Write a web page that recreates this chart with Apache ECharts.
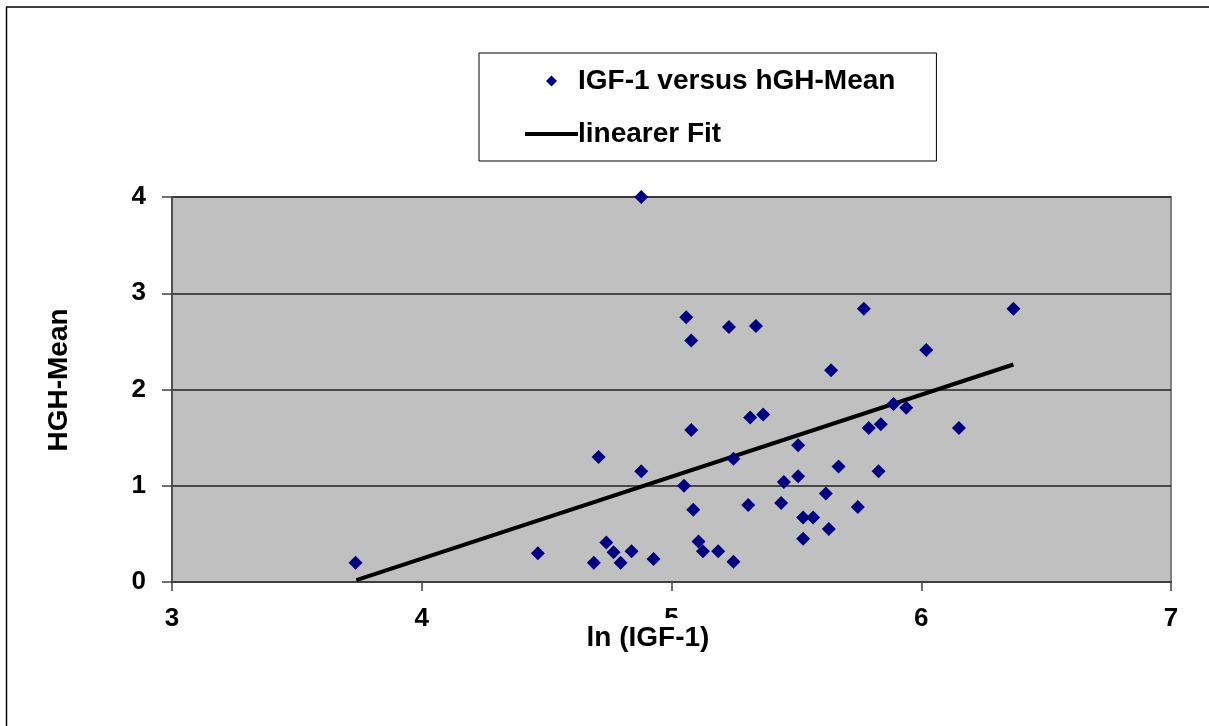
<!DOCTYPE html>
<html>
<head>
<meta charset="utf-8">
<script src="https://cdn.jsdelivr.net/npm/echarts@6/dist/echarts.min.js"></script>
<style>
  html, body { margin: 0; padding: 0; background: #fff; }
  #chart { width: 1209px; height: 726px; }
</style>
</head>
<body>
<div id="chart"></div>
<script>
// ln(IGF-1) values
let igfLn = [3.735, 4.465, 4.879, 5.059, 5.079, 5.230, 5.338, 5.770, 5.639, 5.889,
  5.315, 5.367, 5.790, 5.838, 5.079, 5.507, 4.708, 4.879, 5.248, 5.669,
  5.829, 5.050, 5.450, 5.507, 5.618, 5.087, 5.307, 5.439, 5.746, 5.527,
  5.567, 5.630, 5.527, 4.739, 4.768, 4.796, 4.689, 4.840, 4.928, 5.108,
  5.126, 5.187, 5.248, 6.369, 6.020, 5.940, 6.151];
// HGH-Mean values
let hghMean = [0.20, 0.30, 4.00, 2.75, 2.51, 2.65, 2.66, 2.84, 2.20, 1.85,
  1.71, 1.74, 1.60, 1.64, 1.58, 1.42, 1.30, 1.15, 1.28, 1.20,
  1.15, 1.00, 1.04, 1.10, 0.92, 0.75, 0.80, 0.82, 0.78, 0.67,
  0.67, 0.55, 0.45, 0.41, 0.31, 0.20, 0.20, 0.32, 0.24, 0.42,
  0.32, 0.32, 0.21, 2.84, 2.41, 1.81, 1.60];
// linear fit end points
let fitX = [3.738, 6.369];
let fitY = [0.02, 2.26];

let seriesNames = ["IGF-1 versus hGH-Mean", "linearer Fit"];
let xTitle = "ln (IGF-1)";
let yTitle = "HGH-Mean";

let font = "'Liberation Sans', Arial, sans-serif";

let points = igfLn.map((x, i) => [x, hghMean[i]]);
let fitLine = fitX.map((x, i) => [x, fitY[i]]);

let option = {
  animation: false,
  backgroundColor: "#fff",
  textStyle: { fontFamily: font },
  graphic: [
    // outer frame (top and left edge)
    { type: "line", shape: { x1: 6, y1: 7, x2: 1209, y2: 7 }, style: { stroke: "#000", lineWidth: 1.5 } },
    { type: "line", shape: { x1: 6.5, y1: 7, x2: 6.5, y2: 726 }, style: { stroke: "#000", lineWidth: 1.5 } },
    // x title sits on a white box that hides most of the "5" tick label, like the original
    {
      type: "text",
      z: 100,
      x: 648,
      y: 638,
      style: {
        text: xTitle,
        align: "center",
        verticalAlign: "middle",
        font: "bold 28px " + font,
        fill: "#000",
        lineHeight: 28,
        backgroundColor: "#fff",
        padding: [10, 2, 2, 2],
      },
    },
  ],
  legend: {
    data: [
      // path icons so the shape keeps its aspect inside the 53px wide icon box
      { name: seriesNames[0], icon: "path://M5,0L10,5L5,10L0,5Z" },
      { name: seriesNames[1], icon: "path://M0,0H53V4H0Z" },
    ],
    orient: "vertical",
    left: 479,
    top: 53,
    padding: [13, 41, 12, 46],
    itemWidth: 53,
    itemHeight: 11,
    itemGap: 23,
    symbolKeepAspect: true,
    borderColor: "#000",
    borderWidth: 1,
    backgroundColor: "#fff",
    textStyle: {
      fontFamily: font,
      fontSize: 28,
      fontWeight: "bold",
      color: "#000",
      lineHeight: 30,
      padding: [0, 0, 0, -5],
    },
  },
  grid: {
    left: 172,
    right: 38,
    top: 197,
    bottom: 144,
    show: true,
    backgroundColor: "#c0c0c0",
    borderColor: "#808080",
    borderWidth: 2,
  },
  xAxis: {
    type: "value",
    min: 3,
    max: 7,
    interval: 1,
    axisLine: { lineStyle: { color: "#404040", width: 2 } },
    axisTick: { show: true, length: 9, lineStyle: { color: "#404040", width: 1.5 } },
    axisLabel: { margin: 24, fontFamily: font, fontSize: 26, fontWeight: "bold", color: "#000" },
    splitLine: { show: false },
  },
  yAxis: {
    type: "value",
    min: 0,
    max: 4,
    interval: 1,
    name: yTitle,
    nameLocation: "middle",
    nameGap: 99,
    nameMoveOverlap: false,
    nameTextStyle: {
      fontFamily: font,
      fontSize: 28,
      fontWeight: "bold",
      color: "#000",
      lineHeight: 28,
      padding: [0, 0, 0, 19],
    },
    axisLine: { show: true, lineStyle: { color: "#505050", width: 2 } },
    axisTick: { show: true, length: 10, lineStyle: { color: "#404040", width: 1.5 } },
    axisLabel: { margin: 26, fontFamily: font, fontSize: 26, fontWeight: "bold", color: "#000" },
    splitLine: { show: true, lineStyle: { color: "#202020", width: 1.5 } },
  },
  series: [
    {
      name: seriesNames[0],
      type: "scatter",
      symbol: "diamond",
      symbolSize: 14,
      itemStyle: { color: "#000080", opacity: 1 },
      z: 3,
      data: points,
    },
    {
      name: seriesNames[1],
      type: "line",
      symbol: "none",
      lineStyle: { color: "#000", width: 4 },
      itemStyle: { color: "#000" },
      z: 2,
      data: fitLine,
    },
  ],
};

let myChart = echarts.init(document.getElementById("chart"));
myChart.setOption(option);
</script>
</body>
</html>
